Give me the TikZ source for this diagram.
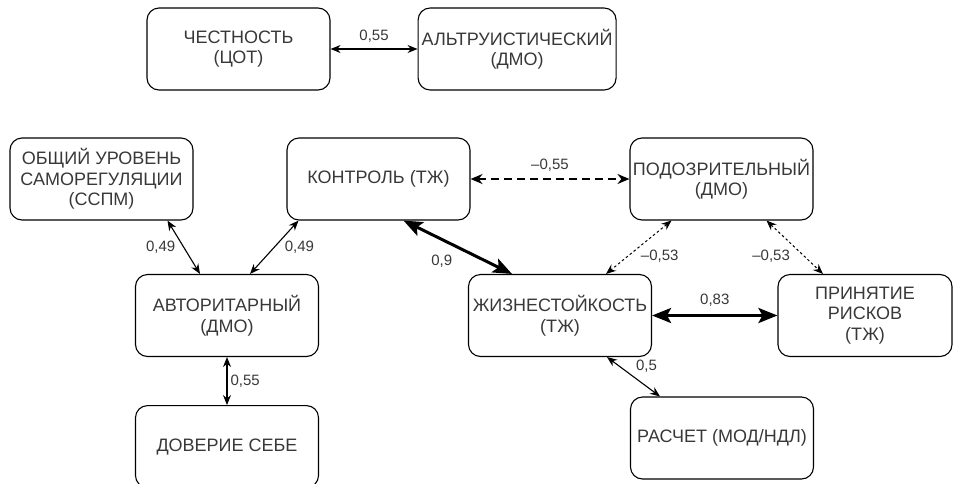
\documentclass[tikz,border=0pt]{standalone}
\usepackage{fontspec}
\setmainfont{Liberation Sans}
\usetikzlibrary{arrows.meta,positioning}

\begin{document}
\begin{tikzpicture}[
      x=1pt, y=-1pt,
      node distance=48pt,
      box/.style={draw, rounded corners=12pt, align=center, minimum width=183pt, minimum height=82pt, inner sep=0pt, line width=1.1pt, text=black!78, font=\fontsize{18}{20.5}\selectfont},
      arr/.style={{Stealth[length=10pt,width=8pt]}-{Stealth[length=10pt,width=8pt]}, line width=1.1pt},
      boldarr/.style={{Stealth[length=19pt,width=15pt,inset=4pt]}-{Stealth[length=19pt,width=15pt,inset=4pt]}, line width=3pt},
      dasharr/.style={{Stealth[length=12pt,width=10pt]}-{Stealth[length=12pt,width=10pt]}, line width=2pt, dash pattern=on 8pt off 5pt},
      dotarr/.style={{Stealth[length=10pt,width=8pt]}-{Stealth[length=10pt,width=8pt]}, line width=1pt, dash pattern=on 2.5pt off 2.5pt},
      lab/.style={text=black!78, inner sep=2pt, font=\fontsize{15}{18}\selectfont}
    ]
      \useasboundingbox (0,0) rectangle (953,483);
      % upper pair
      \node[box] (chest) at (238.5,49) {ЧЕСТНОСТЬ\\(ЦОТ)};
      \node[box, minimum width=198pt, right=87pt of chest] (altr) {АЛЬТРУИСТИЧЕСКИЙ\\(ДМО)};
      % main graph
      \node[box] (obsh) at (101.5,179) {ОБЩИЙ УРОВЕНЬ\\САМОРЕГУЛЯЦИИ\\(ССПМ)};
      \node[box] (kontr) at (378.5,179) {КОНТРОЛЬ (ТЖ)};
      \node[box] (podoz) at (721.5,179) {ПОДОЗРИТЕЛЬНЫЙ\\(ДМО)};
      \node[box] (avtor) at (227,315.5) {АВТОРИТАРНЫЙ\\(ДМО)};
      \node[box] (zhizn) at (560,315.5) {ЖИЗНЕСТОЙКОСТЬ\\(ТЖ)};
      \node[box, minimum width=174pt] (prin) at (865,315.5) {ПРИНЯТИЕ\\РИСКОВ\\(ТЖ)};
      \node[box, below=of avtor] (dover) {ДОВЕРИЕ СЕБЕ};
      \node[box] (rasch) at (722,438) {РАСЧЕТ (МОД/НДЛ)};

      \draw[arr] (chest) -- node[lab, above=4pt] {0,55} (altr);
      \draw[arr] ([xshift=66pt]obsh.south) -- node[lab, left=6pt] {0,49} ([xshift=-27pt]avtor.north);
      \draw[arr] ([xshift=23pt]avtor.north) -- node[lab, right=8pt] {0,49} ([xshift=-80pt]kontr.south);
      \draw[boldarr] ([xshift=25pt]kontr.south) -- node[lab, below left=4pt and 2pt] {0,9} ([xshift=-48pt]zhizn.north);
      \draw[dasharr] (kontr) -- node[lab, above=5pt] {–0,55} (podoz);
      \draw[dotarr] ([xshift=-50pt]podoz.south) -- node[lab, pos=0.55, anchor=west, xshift=3pt, yshift=-6pt] {–0,53} ([xshift=46pt]zhizn.north);
      \draw[dotarr] ([xshift=45pt]podoz.south) -- node[lab, pos=0.6, anchor=east, xshift=-8pt, yshift=-4pt] {–0,53} ([xshift=-42pt]prin.north);
      \draw[boldarr] (zhizn) -- node[lab, above=6pt] {0,83} (prin);
      \draw[arr] ([xshift=47pt]zhizn.south) -- node[lab, above right=2pt and 0pt] {0,5} ([xshift=-62pt]rasch.north);
      \draw[arr] (avtor) -- node[lab, right=1pt] {0,55} (dover);
    \end{tikzpicture}
\end{document}
